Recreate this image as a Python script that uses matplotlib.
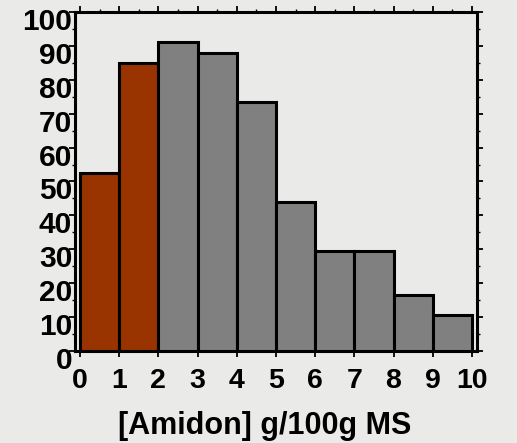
import matplotlib
matplotlib.use("Agg")
import matplotlib.pyplot as plt
import matplotlib.transforms as mtransforms
import numpy as np

# class bins for starch content (g/100g DM)
bin_left = [0, 1, 2, 3, 4, 5, 6, 7, 8, 9]
counts = [52.5, 85, 91, 88, 73.5, 44, 29.5, 29.5, 16.5, 10.5]
bar_colors = ['#993300', '#993300', '#808080', '#808080', '#808080',
              '#808080', '#808080', '#808080', '#808080', '#808080']
x_ticks = list(range(0, 11))
y_ticks = list(range(0, 101, 10))
x_label = '[Amidon] g/100g MS'

plt.rcParams['font.family'] = ['Liberation Sans', 'DejaVu Sans']
plt.rcParams['font.weight'] = 'bold'

bg = '#eaeae8'
fig = plt.figure(figsize=(5.17, 4.43), dpi=100, facecolor=bg)
ax = fig.add_axes([0.145, 0.2077, 0.7776, 0.7653])
ax.set_facecolor(bg)

ax.bar(bin_left, counts, width=1, align='edge', color=bar_colors,
       edgecolor='black', linewidth=2.2, zorder=3)

ax.set_xlim(-0.13, 10.13)
ax.set_ylim(0, 100)

ax.set_xticks(x_ticks)
ax.set_xticklabels([str(v) for v in x_ticks], fontsize=20.5, fontweight='bold')
ax.set_yticks(y_ticks)
ax.set_yticklabels([str(v) for v in y_ticks], fontsize=21.5, fontweight='bold')
ax.set_xticks(np.arange(0.5, 10, 1), minor=True)
ax.set_yticks(np.arange(5, 100, 10), minor=True)

ax.tick_params(axis='both', which='major', direction='out', length=4, width=1.3,
               top=True, right=True, color='black')
ax.tick_params(axis='both', which='minor', direction='out', length=2.5, width=1.0,
               top=True, right=True, bottom=False)
ax.tick_params(axis='x', which='major', pad=8)
ax.tick_params(axis='y', which='major', pad=-2)

for s in ax.spines.values():
    s.set_linewidth(2.2)
    s.set_color('black')

# y labels sit a little below their ticks in the original
offset = mtransforms.ScaledTranslation(0, -7 / 100, fig.dpi_scale_trans)
for lab in ax.get_yticklabels():
    lab.set_transform(lab.get_transform() + offset)

ax.set_xlabel(x_label, fontsize=22, fontweight='bold', va='center')
ax.xaxis.set_label_coords(0.473, -0.222)

fig.savefig('out.png', dpi=100, facecolor=bg)
